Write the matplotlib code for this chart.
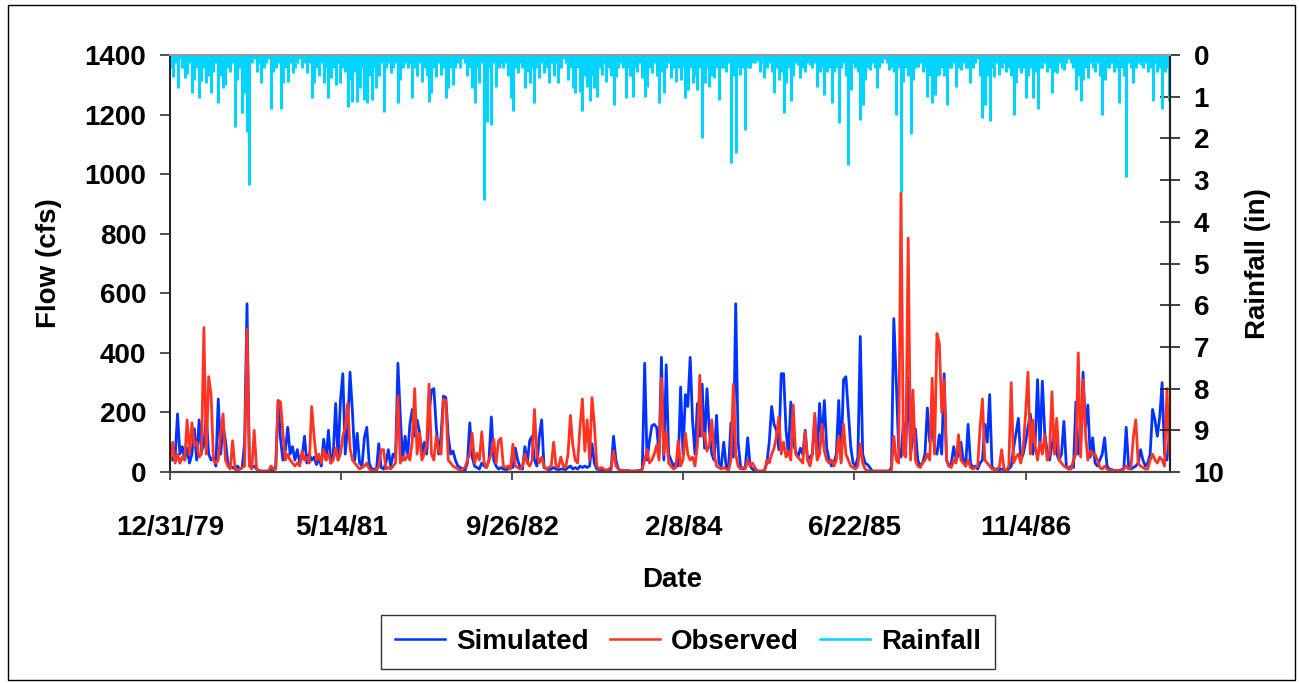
import matplotlib
matplotlib.use("Agg")
import matplotlib.pyplot as plt
import matplotlib.patches as mpatches
from matplotlib.lines import Line2D
import pandas as pd

plt.rcParams['font.family'] = ['Liberation Sans', 'DejaVu Sans']
plt.rcParams['font.weight'] = 'bold'

# ---------------- data (weekly values) ----------------
start_date = '1980-01-01'
step = '7D'

simulated = [
    60,40,50,195,60,85,40,80,30,60,
    145,40,175,70,90,190,60,40,50,20,
    245,60,155,105,30,20,15,10,20,10,
    15,100,565,30,15,20,10,5,3,3,
    3,3,10,5,20,240,110,40,70,150,
    60,85,40,75,30,50,120,30,60,40,
    50,25,45,20,110,40,140,30,60,
    230,40,240,330,60,150,335,205,40,130,
    30,20,115,150,30,10,10,5,95,15,
    10,30,75,20,60,50,365,185,40,120,
    50,160,210,120,175,135,60,100,60,195,
    275,280,150,60,120,255,250,120,60,70,
    40,20,15,10,5,30,165,50,20,15,
    10,30,20,15,40,185,40,20,10,
    15,10,8,10,20,15,80,40,15,10,
    85,30,105,120,40,20,120,175,15,10,
    8,10,15,10,8,10,10,8,15,20,
    10,15,10,20,15,20,15,20,95,30,
    10,8,5,5,5,5,10,120,40,10,
    5,5,5,5,3,3,3,3,5,10,
    365,40,105,155,160,150,60,385,40,
    360,60,40,20,30,20,285,60,260,220,
    385,170,60,230,120,295,80,280,140,60,
    40,190,30,20,100,20,10,165,50,565,
    100,20,10,15,115,20,10,5,3,3,
    3,5,30,100,220,160,140,75,330,330,
    140,60,235,100,70,50,80,60,140,40,
    50,60,185,50,230,100,240,80,40,
    20,30,60,240,40,310,320,200,85,30,
    20,50,455,60,30,25,15,3,3,3,
    3,3,3,3,3,15,515,310,80,50,
    165,90,315,60,120,145,40,20,30,60,
    215,100,160,80,60,125,60,330,40,20,
    30,85,40,60,100,40,20,160,30,15,
    20,10,30,40,160,100,260,
    15,10,10,8,10,8,5,10,20,80,
    130,180,40,60,100,150,195,60,100,310,
    80,305,130,70,40,90,130,60,40,60,
    170,20,10,20,15,235,60,100,335,150,
    225,50,115,30,20,40,60,115,20,10,
    8,5,5,5,8,10,150,20,10,15,
    20,30,75,40,20,30,60,210,175,120,
    185,300,60,40,120,
]

observed = [
    40,100,30,60,30,50,40,175,60,165,
    90,100,50,60,485,60,320,260,40,30,
    40,130,195,40,20,10,105,10,5,10,
    15,20,480,20,10,140,10,5,3,3,
    3,3,20,10,10,240,235,130,40,60,
    40,30,20,30,20,70,40,50,30,220,
    120,40,60,30,75,40,60,30,40,
    80,40,60,120,150,230,80,40,30,20,
    10,15,20,30,10,5,5,5,20,75,
    75,10,15,10,20,30,255,30,50,40,
    60,40,105,280,60,130,40,60,90,295,
    60,40,120,70,60,245,240,40,30,20,
    15,10,5,10,15,40,60,130,30,63,
    40,135,30,15,40,60,110,30,105,
    113,20,15,20,10,93,20,15,10,20,
    60,30,20,40,210,60,30,50,20,10,
    15,20,100,20,15,50,20,15,60,190,
    90,40,30,150,245,70,175,40,250,160,
    20,10,15,10,5,10,15,70,20,10,
    5,5,5,5,3,3,3,5,3,10,
    40,75,30,40,60,90,40,315,60,
    135,30,20,10,15,105,20,40,130,60,
    40,50,20,90,325,120,130,70,90,175,
    60,20,15,10,15,10,5,40,295,60,
    20,10,15,10,40,20,30,15,3,3,
    3,3,40,30,60,80,120,185,60,100,
    50,70,40,225,60,50,40,30,135,40,
    20,60,197,40,60,160,70,40,30,
    40,20,40,120,30,160,60,40,20,15,
    10,20,95,30,10,5,3,3,3,3,
    3,3,3,3,3,5,120,40,30,940,
    60,50,785,40,275,40,20,15,30,40,
    60,40,315,60,465,430,200,310,40,20,
    15,40,30,125,40,30,20,40,15,10,
    15,20,150,245,40,30,20,
    10,8,10,15,75,10,5,20,300,30,
    50,60,30,80,195,335,60,175,90,40,
    100,60,125,40,60,270,60,180,40,30,
    20,15,10,10,40,60,400,50,310,130,
    40,70,60,60,40,15,10,20,10,5,
    5,5,5,5,5,10,20,10,15,120,
    175,30,20,15,10,10,40,60,40,30,
    50,40,20,280,60,
]

rainfall = [
    0.3,0.52,0.2,0.8,0.1,0.3,0.56,0.45,0.2,0.9,
    0.6,0.3,1.04,0.62,0.3,0.68,0.5,0.9,0.4,0.2,
    1.14,0.5,0.8,0.72,0.3,0.4,0.2,1.73,0.6,0.3,
    1.38,0.9,1.84,3.12,0.2,0.1,0.4,0.2,0.68,0.3,
    0.2,0.1,1.3,0.4,0.3,0.2,1.3,0.68,0.3,0.64,
    0.2,0.44,0.3,0.2,0.1,0.3,0.2,0.44,0.2,1.04,
    0.68,0.3,0.5,0.2,0.68,0.3,1.04,0.55,0.3,
    0.72,0.2,0.68,0.3,0.4,1.24,0.6,1.12,0.4,1.12,
    0.8,0.3,1.08,1.14,0.5,1.08,0.3,0.8,0.5,0.2,
    1.36,0.3,0.2,0.44,0.3,0.2,1.14,0.6,0.3,0.2,
    0.3,0.2,1.04,0.3,0.5,0.2,0.64,0.3,0.5,1.12,
    0.9,0.3,0.52,0.2,0.48,0.3,1.04,0.8,0.3,0.72,
    0.3,0.2,0.3,0.1,0.2,0.5,0.3,0.8,1.14,0.3,
    0.68,0.2,3.48,1.6,0.3,1.68,0.2,0.76,0.3,
    0.2,0.3,0.2,0.5,1.04,1.34,0.3,0.44,0.2,0.3,
    0.8,0.4,0.68,0.3,1.14,0.3,0.56,0.2,0.44,0.3,
    0.68,0.2,0.5,0.2,0.68,0.3,0.1,0.2,0.6,0.3,
    0.8,0.92,0.3,0.88,1.34,0.5,0.76,1.1,0.5,0.8,
    1.0,0.3,0.48,0.2,0.64,0.3,0.5,1.2,0.52,0.3,
    0.2,0.3,1.04,0.3,0.5,1.0,0.3,0.4,0.2,0.56,
    1.0,0.76,0.3,0.44,0.2,0.5,1.14,0.4,0.92,
    0.3,0.2,0.56,0.3,0.64,0.3,0.6,0.3,1.04,0.84,
    0.3,0.68,0.5,0.84,0.3,2.0,0.68,0.3,0.76,0.5,
    0.56,0.3,1.08,0.3,0.3,0.4,0.2,2.58,0.5,2.34,
    0.3,0.48,0.3,1.8,0.3,0.32,0.2,0.2,0.15,0.4,
    0.2,0.56,0.3,0.2,0.4,0.9,0.3,0.6,0.4,1.4,
    0.68,0.3,1.1,0.5,0.2,0.24,0.56,0.3,0.4,0.2,
    0.24,0.3,0.2,0.76,0.4,0.3,0.96,0.4,0.3,
    1.14,0.4,0.3,1.64,0.3,0.2,0.5,2.64,0.84,0.2,
    0.3,0.4,1.56,1.2,0.6,0.3,0.36,0.2,0.3,0.8,
    0.3,0.2,0.1,0.2,0.36,0.3,0.4,1.44,0.3,3.28,
    0.64,0.3,0.5,1.9,0.6,0.3,0.28,0.2,0.4,0.3,
    1.0,0.5,1.14,0.96,0.5,0.48,0.3,0.5,1.2,0.3,
    0.32,0.2,0.76,0.3,0.36,0.2,0.3,0.32,0.68,0.3,
    0.2,0.1,0.5,1.5,1.2,0.5,1.58,
    0.3,0.52,0.2,0.48,0.3,0.2,0.4,0.3,0.5,1.44,
    0.68,0.3,0.44,0.3,1.04,0.5,0.3,1.04,0.4,1.3,
    0.3,0.32,0.2,0.4,0.3,0.92,0.4,0.44,0.2,0.3,
    0.36,0.2,0.1,0.2,0.3,0.84,0.5,1.1,0.6,0.3,
    0.56,0.2,0.3,0.4,0.2,0.5,1.44,0.6,0.3,0.32,
    0.2,0.4,0.3,1.14,0.3,0.5,2.92,0.2,0.3,0.68,
    0.3,0.2,0.24,0.3,0.2,0.4,0.3,1.1,0.2,0.4,
    0.3,1.3,0.4,0.3,1.1,
]

date_tick_labels = ['12/31/79', '5/14/81', '9/26/82', '2/8/84', '6/22/85', '11/4/86']
flow_ticks = [0, 200, 400, 600, 800, 1000, 1200, 1400]
rain_ticks = [0, 1, 2, 3, 4, 5, 6, 7, 8, 9, 10]
x_start, x_end = '1979-12-31', '1987-12-31'

# ---------------- figure ----------------
W, H = 1299, 683
fig = plt.figure(figsize=(W / 100, H / 100), dpi=100)
fig.patch.set_facecolor('white')

# outer chart border
fig.patches.append(mpatches.Rectangle((8 / W, 1 - 680 / H), (1295 - 8) / W, (680 - 5) / H,
                                      transform=fig.transFigure, fill=False,
                                      edgecolor='black', linewidth=1.0))

ax = fig.add_axes([170 / W, 1 - 472 / H, 1000 / W, 417 / H])
ax2 = ax.twinx()

C_SIM = '#0033ff'
C_OBS = '#ff3322'
C_RAIN = '#00d4ff'

d_sim = pd.date_range(start_date, periods=len(simulated), freq=step)
d_obs = pd.date_range(start_date, periods=len(observed), freq=step)
d_rain = pd.date_range(start_date, periods=len(rainfall), freq=step)

ax.plot(d_sim, simulated, color=C_SIM, lw=2.0, label='Simulated')
ax.plot(d_obs, observed, color=C_OBS, lw=2.0, label='Observed')
# daily-rain style comb hanging from the (inverted) zero line
ax2.vlines(d_rain, 0, rainfall, color=C_RAIN, lw=2.2, label='Rainfall')

ax.set_xlim(pd.Timestamp(x_start), pd.Timestamp(x_end))
ax.set_ylim(0, 1400)
ax.set_yticks(flow_ticks)
ax2.set_ylim(10, 0)
ax2.set_yticks(rain_ticks)

xt = pd.to_datetime(date_tick_labels, format='%m/%d/%y')
ax.set_xticks(xt)
ax.set_xticklabels(date_tick_labels)

FS = 20
ax.tick_params(axis='y', direction='out', length=7, width=1.2, pad=10, labelsize=FS, color='#333333')
ax.tick_params(axis='x', direction='out', length=6, width=1.2, pad=25, labelsize=FS, color='#333333')
ax2.tick_params(axis='y', direction='inout', length=14, width=1.2, pad=10, labelsize=FS, color='#222222')
for lab in ax.get_xticklabels() + ax.get_yticklabels() + ax2.get_yticklabels():
    lab.set_fontweight('bold')

for a in (ax, ax2):
    a.spines['top'].set_color('#999999')
    a.spines['top'].set_linewidth(1.5)
    a.spines['bottom'].set_color('#444444')
    a.spines['bottom'].set_linewidth(1.5)
    a.spines['left'].set_color('#222222')
    a.spines['left'].set_linewidth(1.3)
    a.spines['right'].set_color('#222222')
    a.spines['right'].set_linewidth(1.5)

ax.set_ylabel('Flow (cfs)', fontsize=FS, fontweight='bold')
ax.yaxis.set_label_coords(-0.108, 0.5)
ax2.set_ylabel('Rainfall (in)', fontsize=FS, fontweight='bold', rotation=90)
ax2.yaxis.set_label_coords(1.075, 0.5)
ax.set_xlabel('Date', fontsize=FS, fontweight='bold')
ax.xaxis.set_label_coords(0.502, -0.228)

handles = [Line2D([], [], color=C_SIM, lw=1.8),
           Line2D([], [], color=C_OBS, lw=1.8),
           Line2D([], [], color=C_RAIN, lw=1.8)]
leg = fig.legend(handles, ['Simulated', 'Observed', 'Rainfall'],
                 loc='center', bbox_to_anchor=(688 / W, 1 - 642 / H), ncol=3,
                 frameon=True, fancybox=False, shadow=False,
                 handlelength=1.8, handletextpad=0.4, columnspacing=0.75,
                 borderpad=0.5, prop={'weight': 'bold', 'size': FS})
leg.get_frame().set_edgecolor('black')
leg.get_frame().set_linewidth(1.0)

fig.savefig('out.png', dpi=100, facecolor='white')
